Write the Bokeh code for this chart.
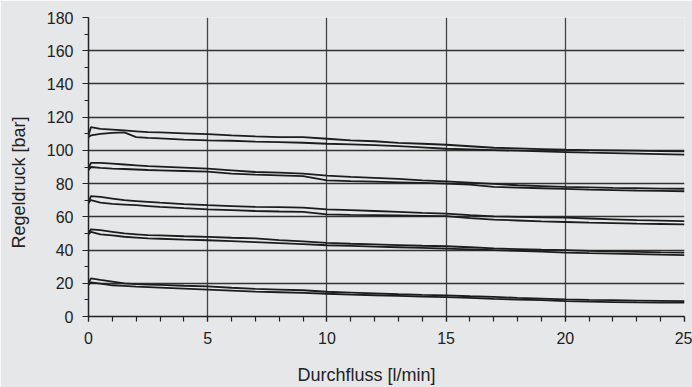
from bokeh.plotting import figure
from bokeh.models import SingleIntervalTicker, FixedTicker, LinearAxis, Title
from bokeh.embed import file_html
from bokeh.resources import INLINE

# Durchfluss [l/min]
flow = [0, 0.1, 0.5, 1, 1.5, 2, 2.5, 3, 4, 5, 6, 7, 8, 9, 10, 11, 12, 13, 14,
        15, 16, 17, 18, 19, 20, 21, 22, 23, 24, 25]

# Regeldruck [bar] - five pressure settings, each rising / falling branch
p110_up = [109, 114, 113, 112.5, 112, 111.5, 111, 110.8, 110.3, 109.8, 109, 108.4,
           108, 108, 107, 106, 105.5, 104.5, 104, 103.4, 102.5, 101.6, 101.2, 100.8,
           100.4, 100.2, 100, 99.8, 99.6, 99.4]
p110_dn = [108, 109, 110, 110.5, 110.8, 108, 107.5, 107.2, 106.5, 106, 105.8, 105.3,
           105, 104.6, 104, 103.6, 103.2, 102.6, 101.8, 101, 100.6, 100.2, 99.8, 99.4,
           99, 98.6, 98.3, 98, 97.7, 97.4]
p90_up = [89, 92.5, 92.5, 92, 91.5, 91, 90.5, 90.2, 89.6, 89, 88, 87, 86.6, 86, 84.8,
          84, 83.5, 82.8, 82, 81.4, 80.6, 79.8, 79, 78.5, 78, 77.7, 77.4, 77.2, 77, 76.9]
p90_dn = [88, 90, 89.5, 89, 88.8, 88.5, 88.2, 88, 87.6, 87.2, 86, 85.4, 85, 84.5, 82,
          81.5, 81.2, 80.8, 80.4, 80, 79.4, 78, 77.6, 77.2, 76.8, 76.4, 76.1, 75.8, 75.6, 75.4]
p70_up = [68, 72.5, 72, 71, 70, 69.5, 69, 68.5, 67.6, 67, 66.5, 66, 65.8, 65.5, 64.5,
          64, 63.5, 63, 62.4, 61.9, 61, 60.3, 60, 59.7, 59.5, 59, 58.5, 58, 57.7, 57.4]
p70_dn = [68.5, 70, 68.5, 67.8, 67.4, 67, 66.5, 66, 65.2, 64.5, 64, 63.5, 63.2, 63, 61.5,
          61.2, 61, 60.8, 60.6, 60.4, 59.2, 58.3, 57.8, 57.3, 56.9, 56.5, 56.2, 55.9, 55.7, 55.5]
p50_up = [50, 52.5, 52, 51, 50, 49.5, 49, 48.8, 48.3, 47.9, 47.4, 47, 46, 45.2, 44.3,
          43.8, 43.4, 43, 42.6, 42.3, 41.7, 41, 40.6, 40.2, 39.9, 39.5, 39.2, 38.9, 38.6, 38.4]
p50_dn = [49.5, 51, 49.5, 48.8, 48, 47.5, 47, 46.8, 46.3, 45.9, 45.4, 44.8, 44.2, 43.6, 42.9,
          42.5, 42.1, 41.7, 41.3, 40.9, 40.4, 39.9, 39.5, 39, 38.5, 38.1, 37.8, 37.5, 37.2, 37]
p20_up = [20, 23, 22, 21, 20, 19.5, 19.2, 19, 18.5, 18.1, 17.3, 16.6, 16.2, 15.8, 14.9,
          14.4, 13.9, 13.4, 13, 12.7, 12.2, 11.8, 11.2, 10.8, 10.3, 10, 9.8, 9.6, 9.4, 9.2]
p20_dn = [19, 20.5, 19.8, 18.8, 18.4, 18, 17.7, 17.4, 16.8, 16.2, 15.6, 15, 14.6, 14.2, 13.7,
          13.2, 12.8, 12.4, 12, 11.7, 11.2, 10.6, 10.2, 9.8, 9.2, 8.9, 8.7, 8.5, 8.4, 8.3]

series = [p110_up, p110_dn, p90_up, p90_dn, p70_up, p70_dn, p50_up, p50_dn, p20_up, p20_dn]

x_title = "Durchfluss [l/min]"
y_title = "Regeldruck [bar]"

BG = "#e6e7e8"
INK = "#222222"
FONT = "Liberation Sans"

p = figure(width=692, height=387, x_range=(0, 25), y_range=(0, 180),
           output_backend="svg", toolbar_location=None,
           min_border_left=88, min_border_right=8, min_border_top=17, min_border_bottom=71)
p.background_fill_color = BG
p.border_fill_color = BG
p.outline_line_color = None

p.xaxis.ticker = SingleIntervalTicker(interval=5, num_minor_ticks=5)
p.yaxis.ticker = SingleIntervalTicker(interval=20, num_minor_ticks=2)

for ax in (p.xaxis, p.yaxis):
    ax.axis_line_color = INK
    ax.axis_line_width = 1.5
    ax.major_tick_line_color = INK
    ax.minor_tick_line_color = INK
    ax.major_tick_line_width = 1.2
    ax.minor_tick_line_width = 1.2
    ax.major_tick_in = 0
    ax.minor_tick_in = 0
    ax.major_label_text_font = FONT
    ax.major_label_text_font_size = "16px"
    ax.major_label_text_color = INK

p.xaxis.major_tick_out = 5
p.xaxis.minor_tick_out = 5
p.yaxis.major_tick_out = 6
p.yaxis.minor_tick_out = 4
p.xaxis.major_label_standoff = 10
p.yaxis.major_label_standoff = 9

p.xgrid.grid_line_color = "#444444"
p.ygrid.grid_line_color = "#333333"
p.xgrid.grid_line_width = 1.3
p.ygrid.grid_line_width = 1.3

for s in series:
    p.line(flow, s, line_color="#1c1c1c", line_width=1.8)


def spacer(size, tick):
    # an axis drawn in the background colour, used only to leave room
    # between the tick labels and the axis title
    return LinearAxis(ticker=FixedTicker(ticks=[tick], minor_ticks=[]),
                      axis_line_color=None,
                      major_tick_line_color=BG, minor_tick_line_color=None,
                      major_tick_in=0, minor_tick_in=0,
                      major_tick_out=size, minor_tick_out=0,
                      major_label_standoff=0, major_label_overrides={tick: ""},
                      major_label_text_font_size="1px", major_label_text_color=BG)


p.add_layout(spacer(16, 12.5), "below")
p.add_layout(spacer(15, 90), "left")

# axis titles, offset from the frame centre as in the original
p.add_layout(Title(text=x_title, align="left", offset=209, standoff=0,
                   text_font=FONT, text_font_size="18px", text_font_style="normal",
                   text_color=INK), "below")
p.add_layout(Title(text=y_title, align="left", offset=68, standoff=0,
                   text_font=FONT, text_font_size="18px", text_font_style="normal",
                   text_color=INK), "left")

open("out.html", "w").write(file_html(p, INLINE))
